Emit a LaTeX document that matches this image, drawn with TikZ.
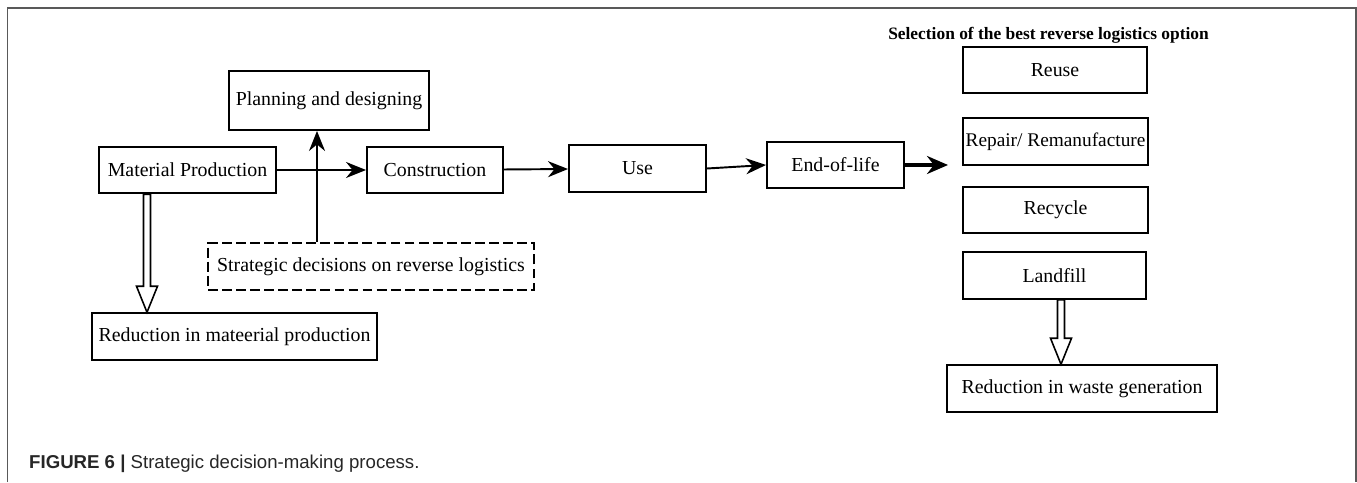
\documentclass[tikz,border=0pt]{standalone}
\usepackage{fontspec}
\setmainfont{Liberation Serif}
\newfontfamily\capfont{Liberation Sans}
\usetikzlibrary{arrows.meta,calc}

\tikzset{
  stagebox/.style={draw,line width=1.1pt,inner sep=0pt,minimum height=0.93cm,
    font=\fontsize{11.3}{13}\selectfont},
  flow/.style={line width=1.1pt,-{Stealth[length=0.4cm,width=0.32cm]}},
  hollow/.style={draw,fill=white,line width=0.9pt,line join=miter},
}

\begin{document}
\begin{tikzpicture}
	\useasboundingbox (0,0) rectangle (27.14,9.64);
	% open frame round the figure
	\draw[black!65,line width=0.9pt] (0.15,0)--(0.15,9.48)--(27.12,9.48)--(27.12,0);

	% life cycle stages
	\node[stagebox,minimum width=3.54cm] (mat) at (3.75,6.24) {Material Production};
	\node[stagebox,minimum width=4.00cm,minimum height=1.18cm] (plan) at (6.58,7.63) {Planning and designing};
	\node[stagebox,minimum width=2.72cm] (cons) at (8.70,6.24) {Construction};
	\node[stagebox,minimum width=2.74cm] (use) at (12.75,6.27) {Use};
	\node[stagebox,minimum width=2.74cm] (eol) at (16.71,6.34) {End-of-life};
	\node[stagebox,minimum width=6.52cm,dash pattern=on 5.6pt off 2.4pt] (strat) at (7.42,4.31)
		{Strategic decisions on reverse logistics};
	\node[stagebox,minimum width=5.70cm] (redmat) at (4.69,2.91) {Reduction in mateerial production};

	% reverse logistics options
	\node[font=\bfseries\fontsize{9.9}{12}\selectfont,anchor=base] (sel) at (20.97,8.84)
		{Selection of the best reverse logistics option};
	\node[stagebox,minimum width=3.68cm] (reuse) at (21.10,8.24) {Reuse};
	\node[stagebox,minimum width=3.70cm,font=\fontsize{11}{13}\selectfont] (repair) at (21.11,6.81) {Repair/ Remanufacture};
	\node[stagebox,minimum width=3.70cm] (recycle) at (21.11,5.44) {Recycle};
	\node[stagebox,minimum width=3.66cm] (landfill) at (21.09,4.13) {Landfill};
	\node[stagebox,minimum width=5.40cm] (redwaste) at (21.64,1.87) {Reduction in waste generation};

	\coordinate (up) at (6.34,0);
	\coordinate (opt) at (18.96,6.34);
	\coordinate (drop1) at (2.94,0);
	\coordinate (drop2) at (21.22,0);

	% flow of the stages
	\draw[flow] (mat) -- (cons);
	\draw[flow] (cons) -- (use);
	\draw[flow] (use.east) -- (eol.west);
	\draw[flow,line width=1.9pt,-{Stealth[length=0.42cm,width=0.36cm]}] (eol.east) -- (opt);
	\draw[flow] (strat.north -| up) -- (plan.south -| up);

	% hollow arrows down to the reductions
	\foreach \src/\dst/\pos in {mat/redmat/drop1,landfill/redwaste/drop2}{
		\draw[hollow] let \p1=(\src.south -| \pos), \p2=(\dst.north -| \pos) in
			({\x1-0.07cm},\y1) -- ({\x1-0.07cm},{\y2+0.52cm}) -- ({\x1-0.21cm},{\y2+0.52cm})
			-- (\p2) -- ({\x1+0.21cm},{\y2+0.52cm}) -- ({\x1+0.07cm},{\y2+0.52cm})
			-- ({\x1+0.07cm},\y1) -- cycle;}

	\node[anchor=base west,text=black!85,font=\capfont\fontsize{10.6}{12}\selectfont] (cap) at (0.46,0.28)
		{\textbf{FIGURE 6 |} Strategic decision-making process.};
\end{tikzpicture}
\end{document}
